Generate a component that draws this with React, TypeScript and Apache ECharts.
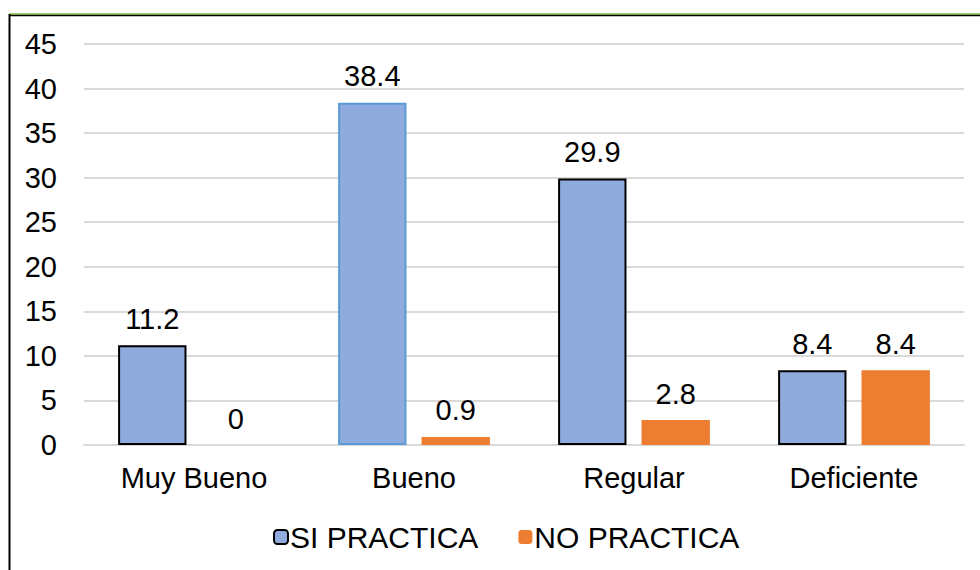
import React, { useEffect, useRef } from "react";
import * as echarts from "echarts";

const categories = ["Muy Bueno", "Bueno", "Regular", "Deficiente"];
const siPractica = [11.2, 38.4, 29.9, 8.4];
const noPractica = [0, 0.9, 2.8, 8.4];
const seriesNames = ["SI PRACTICA", "NO PRACTICA"];

const FONT = "'Liberation Sans', Arial, sans-serif";
const FS = 29;

export default function App() {
  const ref = useRef<HTMLDivElement>(null);
  useEffect(() => {
    if (!ref.current) return;
    const chart = echarts.init(ref.current, null, { renderer: "svg" });
    chart.setOption({
      animation: false,
      backgroundColor: "#ffffff",
      textStyle: { fontFamily: FONT },
      grid: { left: 84, right: 16, top: 44, bottom: 125, containLabel: false },
      legend: {
        left: 268,
        top: 517,
        itemWidth: 14,
        itemHeight: 14,
        itemGap: 40,
        textStyle: { fontSize: 30, color: "#000", fontFamily: FONT, padding: [0, 0, 0, -3] },
        data: seriesNames,
      },
      xAxis: {
        type: "category",
        data: categories,
        axisLine: { show: true, lineStyle: { color: "#D9D9D9", width: 2 } },
        axisTick: { show: false },
        axisLabel: { fontSize: FS, color: "#000", margin: 18, fontFamily: FONT },
      },
      yAxis: {
        type: "value",
        min: 0,
        max: 45,
        interval: 5,
        axisLine: { show: false },
        axisTick: { show: false },
        splitLine: { show: true, lineStyle: { color: "#D9D9D9", width: 2 } },
        axisLabel: { fontSize: FS, color: "#000", margin: 27, fontFamily: FONT },
      },
      series: [
        {
          name: seriesNames[0],
          type: "bar",
          barGap: "22%",
          barCategoryGap: "31%",
          data: siPractica.map((v, i) =>
            i === 1
              ? { value: v, itemStyle: { borderColor: "#5B9BD5" } }
              : v
          ),
          itemStyle: { color: "#8FAADC", borderColor: "#000", borderWidth: 2 },
          label: {
            show: true,
            position: "top",
            distance: 12,
            fontSize: FS,
            color: "#000",
            fontFamily: FONT,
          },
        },
        {
          name: seriesNames[1],
          type: "bar",
          data: noPractica,
          itemStyle: { color: "#ED7D31" },
          label: {
            show: true,
            position: "top",
            distance: 12,
            fontSize: FS,
            color: "#000",
            fontFamily: FONT,
          },
        },
      ],
      graphic: [
        { type: "line", shape: { x1: 9, y1: 14, x2: 980, y2: 14 }, style: { stroke: "#7CC13A", lineWidth: 1.5 } },
        { type: "line", shape: { x1: 9, y1: 15.5, x2: 980, y2: 15.5 }, style: { stroke: "#000", lineWidth: 1.5 } },
        { type: "line", shape: { x1: 9.5, y1: 14, x2: 9.5, y2: 570 }, style: { stroke: "#000", lineWidth: 2 } },
      ],
    });
    return () => chart.dispose();
  }, []);
  return (
    <div
      ref={ref}
      style={{ position: "fixed", left: 0, top: 0, width: 980, height: 570 }}
    />
  );
}
